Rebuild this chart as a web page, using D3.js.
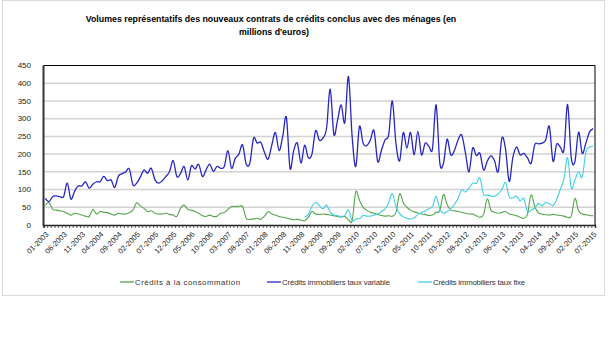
<!DOCTYPE html>
<html>
<head>
<meta charset="utf-8">
<script src="https://cdn.jsdelivr.net/npm/d3@7"></script>
<style>
	body { margin: 0; background: #ffffff; }
	svg text { font-family: Arial, "Liberation Sans", sans-serif; }
</style>
</head>
<body>
<svg id="chart" width="609" height="363"></svg>
<script>

/* DATA : monthly volumes, 01-2003 .. 07-2015 (151 months) */
var month_Count = 151;

var tick_Labels = ["01-2003","06-2003","11-2003","04-2004","09-2004","02-2005","07-2005","12-2005",
	"05-2006","10-2006","03-2007","08-2007","01-2008","06-2008","11-2008","04-2009","09-2009",
	"02-2010","07-2010","12-2010","05-2011","10-2011","03-2012","08-2012","01-2013","06-2013",
	"11-2013","04-2014","09-2014","02-2015","07-2015"];

var y_Ticks = [0, 50, 100, 150, 200, 250, 300, 350, 400, 450];

var series_Names = ["Crédits à la consommation", "Crédits immobiliers taux variable", "Crédits immobiliers taux fixe"];
var series_Colours = ["#55a44c", "#2727c4", "#3fd0e6"];

var consommation = [
	55,63,45,42,40,38,33,28,33,31,
	28,25,24,44,31,38,36,35,31,28,
	33,31,31,35,42,63,54,47,38,40,
	33,31,31,33,30,28,24,47,56,44,
	42,38,33,26,24,28,24,25,33,35,
	44,52,52,53,52,19,16,17,19,16,
	25,38,31,28,24,22,20,17,15,16,
	14,12,22,38,31,30,31,30,28,26,
	24,22,24,15,12,94,70,50,42,36,
	33,30,27,25,26,25,35,88,63,50,
	42,37,34,31,30,27,28,36,40,86,
	58,42,40,38,36,33,31,31,26,22,
	30,73,42,36,33,35,38,31,29,26,
	22,19,30,85,52,34,31,29,28,30,
	28,27,25,22,25,75,40,31,29,27,
	26];

var taux_Variable = [
	75,66,80,82,80,80,118,73,95,110,
	110,122,104,115,122,122,137,125,127,106,
	138,145,150,158,113,118,135,155,146,160,
	128,118,125,137,150,182,137,145,165,127,
	167,158,171,137,155,172,151,165,160,165,
	210,160,188,200,226,172,175,245,231,233,
	205,186,225,261,210,250,304,160,210,231,
	175,225,190,200,266,240,245,273,383,256,
	295,339,289,419,250,165,278,231,224,240,
	266,179,210,240,254,350,230,181,261,217,
	261,198,264,198,231,222,215,339,176,174,
	242,198,210,240,254,205,150,217,196,202,
	155,180,195,181,151,245,215,123,190,220,
	198,202,190,174,226,229,231,240,278,180,
	228,220,212,340,190,179,262,202,231,262,
	272];

/* fixed rate series only starts at the end of 2008 */
var taux_Fixe = [
	null,null,null,null,null,null,null,null,null,null,
	null,null,null,null,null,null,null,null,null,null,
	null,null,null,null,null,null,null,null,null,null,
	null,null,null,null,null,null,null,null,null,null,
	null,null,null,null,null,null,null,null,null,null,
	null,null,null,null,null,null,null,null,null,null,
	null,null,null,null,null,null,null,null,null,null,
	null,22,30,52,64,55,45,56,37,28,
	26,24,27,42,12,17,18,27,25,25,
	28,30,38,45,62,89,52,32,23,19,
	17,20,30,35,40,46,52,80,45,33,
	38,45,58,75,99,93,104,118,118,132,
	87,85,82,81,88,100,120,80,76,82,
	68,75,38,42,48,61,54,64,60,55,
	72,100,130,190,104,127,150,135,205,220,
	222];

/* LAYOUT */
var svg = d3.select("#chart");
var plot_Left = 43.5, plot_Right = 595, plot_Top = 65.5, plot_Bottom = 225;

var months = d3.range(month_Count);

var x = d3.scaleBand().domain(months).range([plot_Left, plot_Right]);
var x_Edges = d3.scaleLinear().domain([0, month_Count]).range([plot_Left, plot_Right]);
var y = d3.scaleLinear().domain([0, 450]).range([plot_Bottom, plot_Top]);

function x_Centre(i) { return x(i) + x.bandwidth() / 2; }

/* outer frame */
svg.append("rect")
	.attr("x", 2.5).attr("y", 0.5)
	.attr("width", 602).attr("height", 295)
	.attr("fill", "none")
	.attr("stroke", "#dadada");

/* title */
var title = svg.append("text")
	.attr("text-anchor", "middle")
	.attr("font-size", "8.8px")
	.attr("font-weight", "bold")
	.attr("fill", "#000");
title.append("tspan").attr("x", 271).attr("y", 21.5)
	.text("Volumes représentatifs  des nouveaux  contrats de crédits conclus avec des ménages (en");
title.append("tspan").attr("x", 274).attr("y", 35)
	.text("millions d'euros)");

/* gridlines */
svg.append("g").selectAll("line")
	.data(y_Ticks.filter(function(v){ return v > 0 && v < 450; }))
	.join("line")
	.attr("x1", plot_Left).attr("x2", plot_Right)
	.attr("y1", function(v){ return y(v); })
	.attr("y2", function(v){ return y(v); })
	.attr("stroke", "#d3d3d3")
	.attr("stroke-width", 1.5);

/* top and right border */
svg.append("path")
	.attr("d", "M" + plot_Left + "," + plot_Top + "H" + plot_Right + "V" + plot_Bottom)
	.attr("fill", "none")
	.attr("stroke", "#000")
	.attr("stroke-width", 1);

/* y axis labels */
svg.append("g").selectAll("text")
	.data(y_Ticks)
	.join("text")
	.attr("x", 31)
	.attr("y", function(v){ return y(v); })
	.attr("dy", "0.35em")
	.attr("text-anchor", "end")
	.attr("font-size", "8px")
	.attr("fill", "#222")
	.text(function(v){ return v; });

/* x axis : small ticks between every month */
var x_Axis = svg.append("g")
	.attr("transform", "translate(0," + plot_Bottom + ")")
	.call(d3.axisBottom(x_Edges).tickValues(d3.range(month_Count + 1)).tickSize(3).tickFormat(""));
x_Axis.select(".domain").attr("stroke", "#222").attr("stroke-width", 1.5);
x_Axis.selectAll(".tick line").attr("stroke", "#333").attr("stroke-width", 0.8);

/* rotated month labels, one every five months */
svg.append("g").selectAll("text")
	.data(tick_Labels)
	.join("text")
	.attr("transform", function(d, k){
		return "translate(" + (x_Centre(k * 5) + 2) + "," + (plot_Bottom + 8) + ") rotate(-45)";
	})
	.attr("text-anchor", "end")
	.attr("dy", "0.35em")
	.attr("font-size", "7.5px")
	.attr("fill", "#222")
	.text(function(d){ return d; });

/* left axis, thick */
svg.append("line")
	.attr("x1", plot_Left).attr("x2", plot_Left)
	.attr("y1", plot_Top).attr("y2", plot_Bottom + 1)
	.attr("stroke", "#333")
	.attr("stroke-width", 2);

/* series lines (smoothed like the original) */
var line = d3.line()
	.defined(function(v){ return v != null; })
	.x(function(v, i){ return x_Centre(i); })
	.y(function(v){ return y(v); })
	.curve(d3.curveCardinal.tension(0));

var all_Series = [consommation, taux_Variable, taux_Fixe];

/* draw order : green, cyan, blue on top */
[0, 2, 1].forEach(function(s){
	svg.append("path")
		.datum(all_Series[s])
		.attr("d", line)
		.attr("fill", "none")
		.attr("stroke", series_Colours[s])
		.attr("stroke-width", s == 1 ? 1.3 : 1.1);
});

/* legend */
var legend_X = [120, 267, 418];
var legend_Text_Width = [105, 108, 92];
var legend = svg.append("g").selectAll("g")
	.data(series_Names)
	.join("g")
	.attr("transform", function(d, k){ return "translate(" + legend_X[k] + ",282)"; });

legend.append("line")
	.attr("x1", 0).attr("x2", 14)
	.attr("stroke", function(d, k){ return series_Colours[k]; })
	.attr("stroke-width", 1.3);

legend.append("text")
	.attr("x", 15)
	.attr("dy", "0.35em")
	.attr("font-size", "7.8px")
	.attr("fill", "#333")
	.attr("textLength", function(d, k){ return legend_Text_Width[k]; })
	.attr("lengthAdjust", "spacing")
	.text(function(d){ return d; });

</script>
</body>
</html>
